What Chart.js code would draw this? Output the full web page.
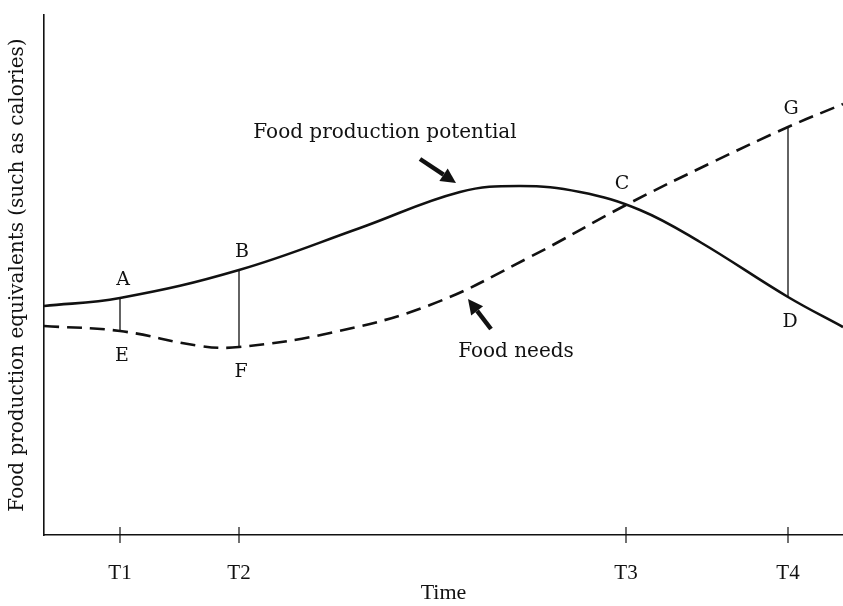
<!DOCTYPE html>
<html>
<head>
<meta charset="utf-8">
<script src="https://cdn.jsdelivr.net/npm/chart.js@4"></script>
<style>
  html, body { margin: 0; padding: 0; background: #fff; }
  canvas { display: block; }
</style>
</head>
<body>
<canvas id="chart" width="843" height="606"></canvas>
<script>
// time axis (arbitrary units) and the four marked moments
const timeTicks = [76, 195, 582, 744];
const tickLabels = ["T1", "T2", "T3", "T4"];

// food production potential (solid curve)
const potentialX = [0, 76, 195, 316, 416, 476, 536, 596, 656, 744, 799];
const potentialY = [229, 237, 265, 307, 343, 349, 343, 325, 293, 238, 208];

// food needs (dashed curve)
const needsX = [0, 76, 156, 195, 286, 386, 486, 582, 669, 744, 799];
const needsY = [209, 204, 189, 188, 202, 230, 278, 330, 373, 408, 431];

// vertical gaps between the curves
const gapX = [76, 195, 744];
const gapUpper = [237, 265, 408];
const gapLower = [204, 188, 238];
const upperLetters = ["A", "B", "G"];
const lowerLetters = ["E", "F", "D"];

// crossing point
const crossX = 582;
const crossY = 330;
const crossLetter = "C";

const ink = "#111";
const serif = "'DejaVu Serif', serif";
const timesFont = "'Liberation Serif', serif";

function toPoints(xs, ys) {
  return xs.map((x, i) => ({ x, y: ys[i] }));
}

function arrow(ctx, x1, y1, x2, y2) {
  const ang = Math.atan2(y2 - y1, x2 - x1);
  const headLen = 15;
  const headW = 7.5;
  const bx = x2 - headLen * Math.cos(ang);
  const by = y2 - headLen * Math.sin(ang);
  ctx.beginPath();
  ctx.moveTo(x1, y1);
  ctx.lineTo(bx, by);
  ctx.lineWidth = 4.5;
  ctx.stroke();
  ctx.beginPath();
  ctx.moveTo(x2, y2);
  ctx.lineTo(bx + headW * Math.sin(ang), by - headW * Math.cos(ang));
  ctx.lineTo(bx - headW * Math.sin(ang), by + headW * Math.cos(ang));
  ctx.closePath();
  ctx.fill();
}

const sketchPlugin = {
  id: "sketch",
  afterDatasetsDraw(chart) {
    const { ctx, scales } = chart;
    const xs = scales.x;
    const ys = scales.y;
    const axisY = chart.chartArea.bottom;

    ctx.save();
    ctx.strokeStyle = ink;
    ctx.fillStyle = ink;

    // tick marks crossing the time axis
    ctx.lineWidth = 1.2;
    for (const t of timeTicks) {
      const px = xs.getPixelForValue(t);
      ctx.beginPath();
      ctx.moveTo(px, axisY - 8);
      ctx.lineTo(px, axisY + 8);
      ctx.stroke();
    }

    // point letters
    ctx.font = "19px " + serif;
    ctx.textAlign = "center";
    ctx.textBaseline = "middle";
    gapX.forEach((x, i) => {
      const px = xs.getPixelForValue(x);
      ctx.fillText(upperLetters[i], px + 3, ys.getPixelForValue(gapUpper[i]) - 18);
      ctx.fillText(lowerLetters[i], px + 2, ys.getPixelForValue(gapLower[i]) + 25);
    });
    ctx.fillText(crossLetter, xs.getPixelForValue(crossX) - 4, ys.getPixelForValue(crossY) - 21);

    // curve captions with arrows
    ctx.font = "20px " + serif;
    ctx.fillText("Food production potential", xs.getPixelForValue(341), ys.getPixelForValue(402));
    ctx.fillText("Food needs", xs.getPixelForValue(472), ys.getPixelForValue(183));

    arrow(ctx, xs.getPixelForValue(376), ys.getPixelForValue(376),
      xs.getPixelForValue(412), ys.getPixelForValue(352));
    arrow(ctx, xs.getPixelForValue(447), ys.getPixelForValue(206),
      xs.getPixelForValue(424), ys.getPixelForValue(236));

    ctx.restore();
  },
};

const datasets = [
  {
    data: toPoints(potentialX, potentialY),
    borderColor: ink,
    borderWidth: 2.6,
    tension: 0.4,
  },
  {
    data: toPoints(needsX, needsY),
    borderColor: ink,
    borderWidth: 2.6,
    borderDash: [15, 8],
    tension: 0.4,
  },
];

gapX.forEach((x, i) => {
  datasets.push({
    data: [{ x, y: gapUpper[i] }, { x, y: gapLower[i] }],
    borderColor: ink,
    borderWidth: 1.3,
    tension: 0,
  });
});

new Chart(document.getElementById("chart"), {
  type: "scatter",
  data: { datasets },
  options: {
    responsive: false,
    animation: false,
    devicePixelRatio: 1,
    showLine: true,
    elements: { point: { radius: 0, hoverRadius: 0 } },
    layout: { padding: { top: 15, right: 0, bottom: 0, left: 0 } },
    plugins: {
      legend: { display: false },
      tooltip: { enabled: false },
    },
    scales: {
      x: {
        type: "linear",
        min: 0,
        max: 799,
        grid: { display: false },
        border: { display: true, color: ink, width: 1.6 },
        afterBuildTicks(scale) {
          scale.ticks = timeTicks.map((v) => ({ value: v }));
        },
        afterFit(scale) {
          scale.height = 71;
        },
        ticks: {
          color: ink,
          padding: 18,
          maxRotation: 0,
          autoSkip: false,
          font: { family: timesFont, size: 21 },
          callback(value) {
            const i = timeTicks.indexOf(value);
            return i >= 0 ? tickLabels[i] : "";
          },
        },
        title: {
          display: true,
          text: "Time",
          color: ink,
          font: { family: timesFont, size: 22 },
          padding: { top: 0, bottom: 0 },
        },
      },
      y: {
        type: "linear",
        min: 0,
        max: 520,
        grid: { display: false },
        border: { display: true, color: ink, width: 1.6 },
        ticks: { display: false },
        afterFit(scale) {
          scale.width = 44;
        },
        title: {
          display: true,
          text: "Food production equivalents (such as calories)",
          color: ink,
          font: { family: serif, size: 20 },
          padding: { top: 6, bottom: 0 },
        },
      },
    },
  },
  plugins: [sketchPlugin],
});
</script>
</body>
</html>
